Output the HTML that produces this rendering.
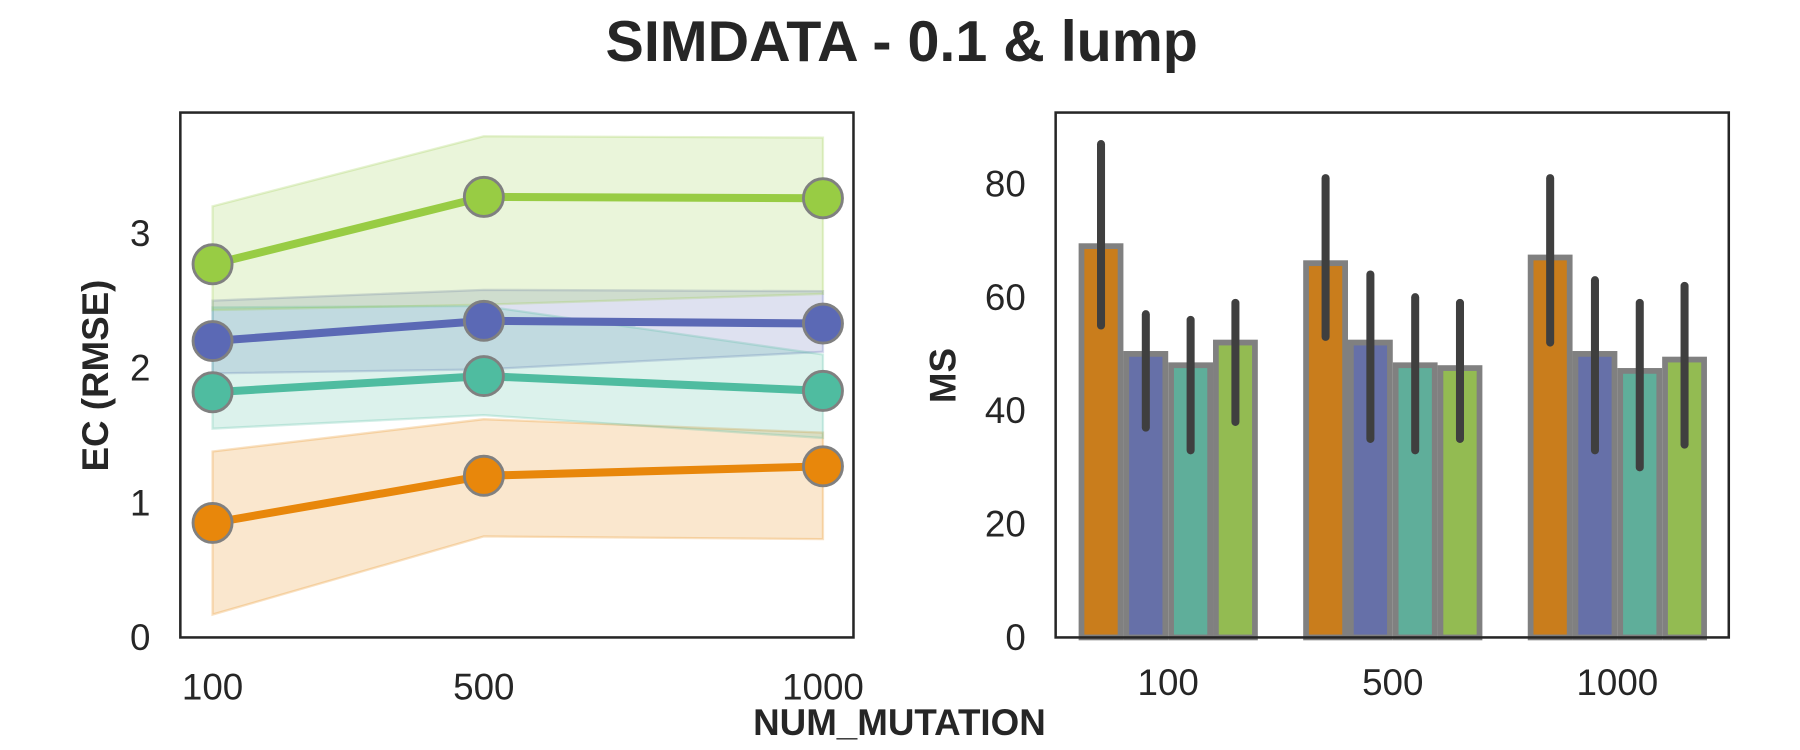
<!DOCTYPE html>
<html><head><meta charset="utf-8"><style>
html,body{margin:0;padding:0;background:#fff}
svg{display:block;font-family:"Liberation Sans",Arial,sans-serif}
</style></head><body>
<svg id="c" width="1800" height="750" viewBox="0 0 1567 653" preserveAspectRatio="none" xmlns="http://www.w3.org/2000/svg">
<text x="785" y="53" text-anchor="middle" font-size="50" font-weight="bold" fill="#262626">SIMDATA - 0.1 &amp; lump</text>
<g id="left"></g>
<g id="right"></g>
<text x="783" y="640" text-anchor="middle" font-size="32" font-weight="bold" fill="#262626">NUM_MUTATION</text>
<text transform="translate(94,327) rotate(-90)" text-anchor="middle" font-size="32" font-weight="bold" fill="#262626">EC (RMSE)</text>
<text transform="translate(832,327) rotate(-90)" text-anchor="middle" font-size="32" font-weight="bold" fill="#262626">MS</text>
</svg>
<script>
const categories = ["100","500","1000"];
const xNums = [100,500,1000];
const seriesNames = ["orange","blue","teal","green"];
const ecOrange = [0.85,1.2,1.27];
const ecBlue = [2.2,2.35,2.33];
const ecTeal = [1.82,1.94,1.83];
const ecGreen = [2.77,3.27,3.26];
const ecOrangeLo = [0.17,0.75,0.73], ecOrangeHi = [1.38,1.62,1.52];
const ecBlueLo = [1.96,1.99,2.12], ecBlueHi = [2.5,2.58,2.57];
const ecTealLo = [1.55,1.65,1.48], ecTealHi = [2.45,2.46,2.1];
const ecGreenLo = [2.43,2.47,2.55], ecGreenHi = [3.2,3.72,3.71];
const leftTicks = [0,1,2,3];
const msOrange = [69,66,67];
const msBlue = [50,52,50];
const msTeal = [48,48,47];
const msGreen = [52,47.5,49];
const msOrangeLo=[55,53,52], msOrangeHi=[87,81,81];
const msBlueLo=[37,35,33], msBlueHi=[57,64,63];
const msTealLo=[33,33,30], msTealHi=[56,60,59];
const msGreenLo=[38,35,34], msGreenHi=[59,59,62];
const rightTicks = [0,20,40,60,80];

const NS="http://www.w3.org/2000/svg";
function mk(p,t,a){const e=document.createElementNS(NS,t);for(const k in a)e.setAttribute(k,a[k]);p.appendChild(e);return e;}
const L=document.getElementById('left'), R=document.getElementById('right');
const lx=v=>157+(v-52.5)/(1045-52.5)*586;
const ly=v=>555-v*117.3;
const lineCols=["#e8870b","#5b69b5","#4fbca0","#98cc44"];
const ecVals=[ecOrange,ecBlue,ecTeal,ecGreen];
const ecLo=[ecOrangeLo,ecBlueLo,ecTealLo,ecGreenLo], ecHi=[ecOrangeHi,ecBlueHi,ecTealHi,ecGreenHi];
for(let s=0;s<4;s++){
  let pts=xNums.map((x,i)=>lx(x)+","+ly(ecHi[s][i])).concat(xNums.map((x,i)=>[lx(x),ly(ecLo[s][i])]).reverse().map(p=>p.join(",")));
  const b=mk(L,'polygon',{points:pts.join(" "),fill:lineCols[s],'fill-opacity':0.2,stroke:lineCols[s],'stroke-opacity':0.25,'stroke-width':2});
  
  
}
for(let s=0;s<4;s++){
  const l=mk(L,'polyline',{points:xNums.map((x,i)=>lx(x)+","+ly(ecVals[s][i])).join(" "),fill:'none',stroke:lineCols[s],'stroke-width':7});
  
  
  xNums.forEach((x,i)=>{
    const c=mk(L,'circle',{cx:lx(x),cy:ly(ecVals[s][i]),r:17,fill:lineCols[s],stroke:'#808080','stroke-width':2.5});
    
    
  });
}
mk(L,'rect',{x:157,y:98,width:586,height:457,fill:'none',stroke:'#262626','stroke-width':2.2});
leftTicks.forEach(t=>{const e=mk(L,'text',{x:131,y:ly(t)+11,'text-anchor':'end','font-size':32,fill:'#262626'});e.textContent=t;

});
xNums.forEach((x,i)=>{const e=mk(L,'text',{x:lx(x),y:609,'text-anchor':'middle','font-size':32,fill:'#262626'});e.textContent=categories[i];

});
const ry=v=>555-v*(395/80);
const rx=i=>1017+i*195.5;
const barCols=["#c97d1c","#6670a8","#5fae9a","#93bb52"];
const msVals=[msOrange,msBlue,msTeal,msGreen];
const msLo=[msOrangeLo,msBlueLo,msTealLo,msGreenLo], msHi=[msOrangeHi,msBlueHi,msTealHi,msGreenHi];
const bw=39;
for(let i=0;i<3;i++){for(let s=0;s<4;s++){
  const x0=rx(i)-78+s*bw;
  const b=mk(R,'rect',{x:x0+2.5,y:ry(msVals[s][i]),width:bw-5,height:ry(0)-ry(msVals[s][i]),fill:barCols[s],stroke:'#808080','stroke-width':5});
  
  
  const e=mk(R,'line',{x1:x0+bw/2,x2:x0+bw/2,y1:ry(msLo[s][i]),y2:ry(msHi[s][i]),stroke:'#3f3f3f','stroke-width':7,'stroke-linecap':'round'});
  
  
}}
mk(R,'rect',{x:919,y:98,width:586,height:457,fill:'none',stroke:'#262626','stroke-width':2.2});
rightTicks.forEach(t=>{const e=mk(R,'text',{x:893,y:ry(t)+11,'text-anchor':'end','font-size':32,fill:'#262626'});e.textContent=t;

});
categories.forEach((c,i)=>{const e=mk(R,'text',{x:rx(i),y:605,'text-anchor':'middle','font-size':32,fill:'#262626'});e.textContent=c;

});
</script>
</body></html>
